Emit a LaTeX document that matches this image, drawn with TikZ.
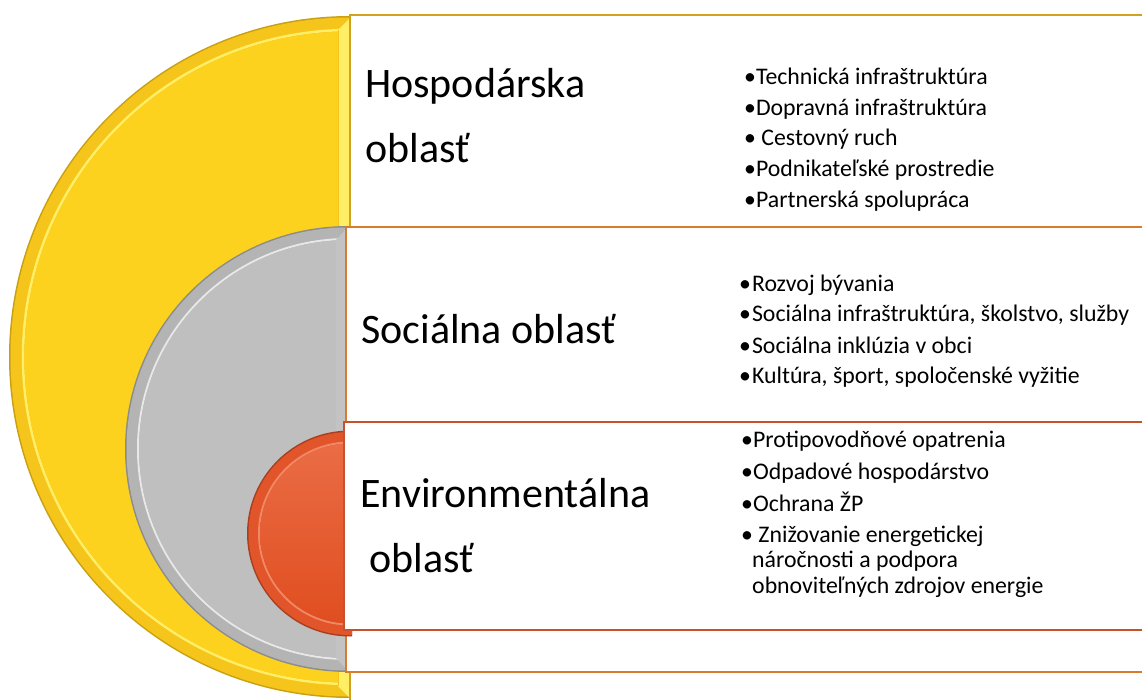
\documentclass[tikz,border=0pt]{standalone}
\usepackage{fontspec}
\setmainfont{Carlito}
\definecolor{yedge}{HTML}{C9A010}
\definecolor{ystrip}{HTML}{F6C51C}
\definecolor{ylight}{HTML}{FFEE66}
\definecolor{ybody}{HTML}{FCD21E}
\definecolor{gedge}{HTML}{8C8C8C}
\definecolor{gstrip}{HTML}{B4B4B4}
\definecolor{glight}{HTML}{E8E8E8}
\definecolor{gbody}{HTML}{BFBFBF}
\definecolor{oedge}{HTML}{A8401F}
\definecolor{ostrip}{HTML}{E2552B}
\definecolor{olight}{HTML}{F08A66}
\definecolor{otop}{HTML}{EA6C45}
\definecolor{obot}{HTML}{E04E20}
\definecolor{bordA}{HTML}{D2A21E}
\definecolor{bordB}{HTML}{D97B2C}
\definecolor{bordC}{HTML}{C9502C}
\tikzset{
  panel/.style={fill=white, line width=2pt},
  title/.style={anchor=base west, inner sep=0pt, font=\fontsize{42}{50}\selectfont},
  item/.style={anchor=base west, inner sep=0pt, font=\fontsize{23.8}{28}\selectfont},
}
\begin{document}
\begin{tikzpicture}[x=1pt,y=-1pt]
\useasboundingbox (0,0) rectangle (1142,700);
\clip (0,0) rectangle (1142,700);
\fill[white] (0,0) rectangle (1142,700);

% ---- yellow semicircle
\begin{scope}
  \clip (0,0) rectangle (350,700);
  \fill[yedge] (350,357) circle[radius=341];
  \fill[ystrip] (350,357) circle[radius=339.5];
  \draw[ylight, line width=2.5pt] (350,357) circle[radius=327];
  \fill[ybody] (350,357) circle[radius=325.5];
\end{scope}
\fill[ylight] (338,30) -- (350,18) -- (350,698) -- (338,686) -- cycle;
\draw[ystrip, line width=1pt] (338,30) -- (338,686);

% ---- top panel
\draw[panel, draw=bordA] (350,15) rectangle (1170,730);

% ---- gray semicircle
\begin{scope}
  \clip (0,0) rectangle (347,700);
  \fill[gedge] (348,449) circle[radius=223];
  \fill[gstrip] (348,449) circle[radius=221.5];
  \draw[glight, line width=2pt] (348,449) circle[radius=210];
  \fill[gbody] (348,449) circle[radius=209];
\end{scope}
\fill[gstrip!80!white] (336,240) -- (347,228) -- (347,670) -- (336,658) -- cycle;

% ---- middle panel
\draw[panel, draw=bordB] (346,227) rectangle (1170,672);

% ---- orange semicircle
\begin{scope}
  \clip (0,0) rectangle (352,700);
  \fill[oedge] (350,533.5) circle[radius=103];
  \fill[ostrip] (350,533.5) circle[radius=101.5];
  \draw[olight, line width=2pt] (350,533.5) circle[radius=91];
  \shade[top color=otop, bottom color=obot] (350,533.5) circle[radius=90];
\end{scope}

% ---- bottom panel
\draw[panel, draw=bordC] (344,422) rectangle (1170,630);

% ---- titles
\node[title] (t1a) at (365,98) {Hospodárska};
\node[title] (t1b) at (365,163) {oblasť};
\node[title] (t2) at (361,343) {Sociálna oblasť};
\node[title] (t3a) at (360,507) {Environmentálna};
\node[title] (t3b) at (369,572) {oblasť};

% ---- economic items
\node[item] (h1) at (744,85) {•Technická infraštruktúra};
\node[item] (h2) at (744,116) {•Dopravná infraštruktúra};
\node[item] (h3) at (744,146) {• Cestovný ruch};
\node[item] (h4) at (744,177) {•Podnikateľské prostredie};
\node[item] (h5) at (744,208) {•Partnerská spolupráca};

% ---- social items
\node[item] (s1) at (739,292) {•\kern1pt Rozvoj bývania};
\node[item] (s2) at (739,322) {•\kern1pt Sociálna infraštruktúra, školstvo, služby};
\node[item] (s3) at (739,353) {•\kern1pt Sociálna inklúzia v obci};
\node[item] (s4) at (739,383) {•\kern1pt Kultúra, šport, spoločenské vyžitie};

% ---- environmental items
\node[item] (e1) at (741,447) {•Protipovodňové opatrenia};
\node[item] (e2) at (741,479) {•Odpadové hospodárstvo};
\node[item] (e3) at (741,511) {•Ochrana ŽP};
\node[item] (e4) at (741,542) {• Znižovanie energetickej};
\node[item] (e5) at (752,567) {náročnosti a podpora};
\node[item] (e6) at (752,593) {obnoviteľných zdrojov energie};
\end{tikzpicture}
\end{document}
